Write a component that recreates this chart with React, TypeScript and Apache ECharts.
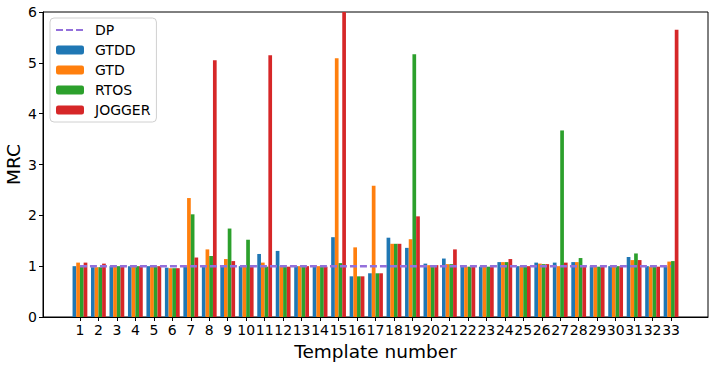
import React, { useEffect, useRef } from "react";
import * as echarts from "echarts";

const templates = Array.from({ length: 33 }, (_, i) => String(i + 1));
const gtdd = [1.0, 0.98, 1.0, 1.0, 1.0, 0.97, 1.0, 1.0, 1.0, 1.0, 1.24, 1.3, 1.0, 1.0, 1.57, 0.8, 0.86, 1.56, 1.36, 1.05, 1.15, 1.0, 0.99, 1.08, 1.0, 1.07, 1.07, 1.08, 1.0, 1.0, 1.18, 1.0, 1.0];
const gtd = [1.07, 0.98, 1.0, 1.0, 1.0, 0.96, 2.34, 1.33, 1.14, 1.0, 1.07, 1.0, 1.0, 1.0, 5.09, 1.37, 2.58, 1.44, 1.53, 1.02, 1.04, 0.99, 1.0, 1.08, 1.0, 1.05, 1.0, 1.08, 0.99, 1.0, 1.12, 0.99, 1.09];
const rtos = [1.0, 0.98, 1.0, 1.0, 1.0, 0.96, 2.02, 1.2, 1.74, 1.52, 0.99, 0.99, 1.0, 0.99, 1.06, 0.8, 0.86, 1.44, 5.17, 1.02, 1.04, 0.99, 0.99, 1.08, 1.0, 1.04, 3.67, 1.16, 0.99, 1.0, 1.25, 0.99, 1.1];
const jogger = [1.07, 1.05, 1.0, 1.0, 1.0, 0.96, 1.17, 5.05, 1.1, 1.0, 5.15, 0.99, 1.0, 0.99, 6.5, 0.8, 0.86, 1.44, 1.98, 1.02, 1.33, 0.99, 0.99, 1.14, 1.0, 1.04, 1.07, 1.0, 1.0, 1.0, 1.12, 0.99, 5.65];
const dp = templates.map(() => 1.0);

const FONT = "DejaVu Sans";

// pad: two empty slots on each side (matplotlib-like x limits)
const pad = (arr: (number | null)[]) => [null, null, ...arr, null, null];
const cats = ["", "", ...templates, "", ""];
const shown = (i: number) => i >= 2 && i <= 34;

export default function App() {
  const ref = useRef<HTMLDivElement>(null);
  useEffect(() => {
    document.body.style.margin = "0";
    const chart = echarts.init(ref.current!, null, { renderer: "svg" });
    const bar = (name: string, data: number[], color: string) => ({
      name,
      type: "bar",
      data: pad(data),
      barWidth: 3.7,
      barGap: "0%",
      itemStyle: { color },
      clip: true,
    });
    chart.setOption({
      animation: false,
      textStyle: { fontFamily: FONT },
      grid: {
        left: 43,
        right: 7,
        top: 12,
        bottom: 48,
        containLabel: false,
        outerBoundsMode: "none",
        show: true,
        borderColor: "#000",
        borderWidth: 1,
      },
      legend: {
        orient: "vertical",
        left: 50,
        top: 18,
        backgroundColor: "rgba(255,255,255,0.8)",
        borderColor: "#d0d0d0",
        borderWidth: 1,
        borderRadius: 4,
        padding: [5, 6, 5, 5],
        itemWidth: 28,
        itemHeight: 9,
        itemGap: 6,
        textStyle: { fontFamily: FONT, fontSize: 14, color: "#000", padding: [0, 0, 0, 6] },
        data: [
          { name: "DP", itemStyle: { opacity: 0 } },
          "GTDD",
          "GTD",
          "RTOS",
          "JOGGER",
        ],
      },
      xAxis: {
        type: "category",
        data: cats,
        boundaryGap: false,
        name: "Template number",
        nameLocation: "middle",
        nameGap: 23,
        nameTextStyle: { fontFamily: FONT, fontSize: 18.5, color: "#000" },
        axisLine: { lineStyle: { color: "#000" } },
        axisTick: {
          length: 4,
          lineStyle: { color: "#000" },
          interval: (i: number) => shown(i),
        },
        axisLabel: {
          interval: (i: number) => shown(i),
          fontFamily: FONT,
          fontSize: 14,
          color: "#000",
          margin: 6,
        },
        splitLine: { show: false },
      },
      yAxis: {
        type: "value",
        min: 0,
        max: 6,
        interval: 1,
        name: "MRC",
        nameLocation: "middle",
        nameGap: 20,
        nameMoveOverlap: false,
        nameTextStyle: { fontFamily: FONT, fontSize: 18.5, color: "#000" },
        axisLine: { show: true, lineStyle: { color: "#000" } },
        axisTick: { show: true, length: 4, lineStyle: { color: "#000" } },
        axisLabel: { fontFamily: FONT, fontSize: 14, color: "#000", margin: 6 },
        splitLine: { show: false },
      },
      series: [
        {
          name: "DP",
          type: "line",
          data: pad(dp),
          symbol: "none",
          z: 5,
          lineStyle: { color: "#9370DB", width: 2.5, type: [7, 3] },
          itemStyle: { color: "#9370DB" },
        },
        bar("GTDD", gtdd, "#1f77b4"),
        bar("GTD", gtd, "#ff7f0e"),
        bar("RTOS", rtos, "#2ca02c"),
        bar("JOGGER", jogger, "#d62728"),
      ],
    });
    return () => chart.dispose();
  }, []);
  return <div ref={ref} style={{ width: 715, height: 365 }} />;
}
